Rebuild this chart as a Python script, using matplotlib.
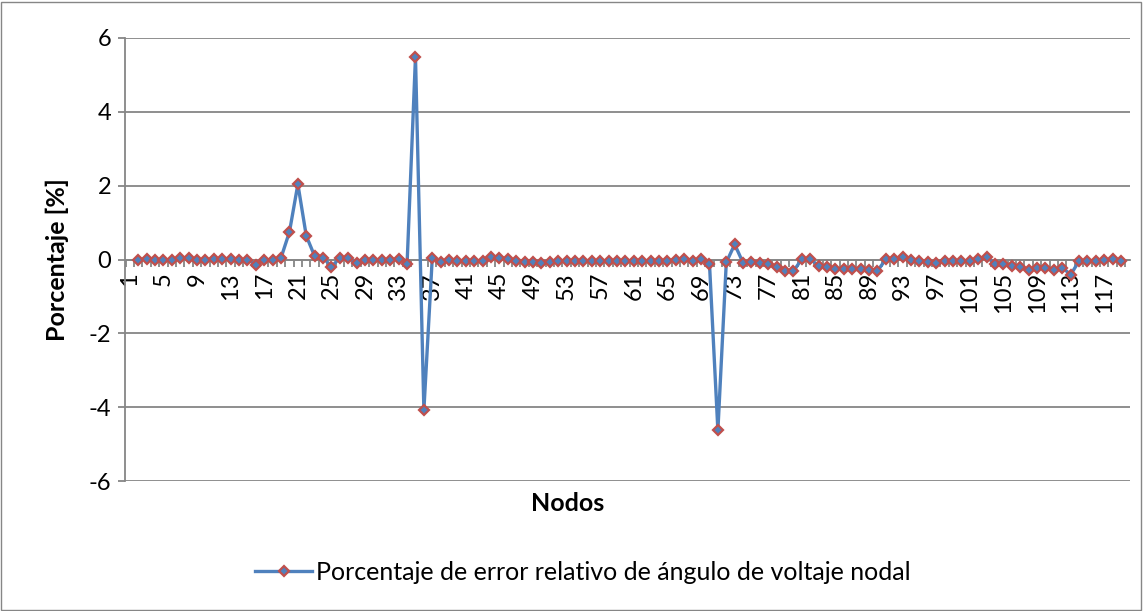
import matplotlib
matplotlib.use("Agg")
import matplotlib.pyplot as plt
from matplotlib.patches import Rectangle
from matplotlib.ticker import FixedLocator

plt.rcParams['font.family'] = ['Lato', 'DejaVu Sans']

# Relative error (%) of nodal voltage angle; node 1 has no value (reference angle)
nodes = list(range(2, 120))
error_pct = [
    0.00, 0.01, 0.00, -0.01, -0.01, 0.04, 0.05, -0.01, 0.00, 0.01,
    0.02, 0.02, -0.01, 0.00, -0.14, 0.00, -0.02, 0.05, 0.75, 2.04,
    0.64, 0.09, 0.05, -0.19, 0.04, 0.03, -0.09, -0.02, -0.01, -0.02,
    -0.01, 0.02, -0.12, 5.49, -4.08, 0.05, -0.06, -0.02, -0.05, -0.04,
    -0.04, -0.05, 0.06, 0.05, 0.02, -0.05, -0.08, -0.06, -0.10, -0.06,
    -0.05, -0.04, -0.05, -0.05, -0.05, -0.05, -0.05, -0.05, -0.05, -0.03,
    -0.03, -0.04, -0.03, -0.03, 0.00, 0.01, -0.03, 0.02, -0.12, -4.63,
    -0.08, 0.41, -0.09, -0.07, -0.09, -0.12, -0.19, -0.30, -0.32, 0.02,
    0.01, -0.17, -0.21, -0.25, -0.26, -0.27, -0.27, -0.29, -0.31, 0.01,
    0.01, 0.07, 0.00, -0.05, -0.07, -0.09, -0.05, -0.05, -0.05, -0.05,
    0.01, 0.06, -0.11, -0.13, -0.17, -0.19, -0.29, -0.22, -0.24, -0.29,
    -0.22, -0.41, -0.04, -0.03, -0.04, -0.02, 0.01, -0.05,
]
y_ticks = [-6, -4, -2, 0, 2, 4, 6]
x_tick_nodes = list(range(1, 118, 4))
x_tick_labels = [str(n) for n in x_tick_nodes]

series_label = "Porcentaje de error relativo de ángulo de voltaje nodal"
x_title = "Nodos"
y_title = "Porcentaje [%]"

W, H = 1143, 611
fig = plt.figure(figsize=(W / 100, H / 100), dpi=100)
fig.patch.set_facecolor("white")
fig.add_artist(Rectangle((1 / W, 1 / H), 1 - 3 / W, 1 - 3 / H,
                         transform=fig.transFigure, fill=False,
                         edgecolor="#868686", linewidth=1.0))

left, right, top, bottom = 125, 1130, 38, 481
ax = fig.add_axes([left / W, 1 - bottom / H, (right - left) / W, (bottom - top) / H])

grid_color = "#868686"
ax.set_ylim(-6, 6)
ax.set_xlim(0.42, 120.06)
ax.set_yticks(y_ticks)
ax.set_yticklabels([str(v) for v in y_ticks])
ax.yaxis.grid(True, color=grid_color, linewidth=1.3)
ax.set_axisbelow(True)

for side in ("top", "right"):
    ax.spines[side].set_visible(False)
ax.spines["left"].set_color(grid_color)
ax.spines["left"].set_linewidth(1.3)
ax.spines["bottom"].set_position(("data", 0))
ax.spines["bottom"].set_color(grid_color)
ax.spines["bottom"].set_linewidth(1.3)

ax.tick_params(axis="y", direction="out", length=5, width=1.3, color=grid_color,
               labelsize=17, pad=5)

# category labels on their nodes, tick marks between categories
ax.set_xticks(x_tick_nodes)
ax.set_xticklabels(x_tick_labels, rotation=90, fontsize=17)
ax.tick_params(axis="x", which="major", length=0, pad=9)
ax.xaxis.set_minor_locator(FixedLocator([n + 0.5 for n in range(0, 120)]))
ax.tick_params(axis="x", which="minor", direction="out", length=5, width=1.3,
               color=grid_color)

ax.plot(nodes, error_pct, color="#4F81BD", linewidth=2.4,
        marker="D", markersize=5.5, markerfacecolor="#4F81BD",
        markeredgecolor="#C0504D", markeredgewidth=1.6,
        label=series_label, zorder=3, clip_on=False)

ax.set_xlabel(x_title, fontsize=18, fontweight="bold")
ax.xaxis.set_label_coords(0.44, -0.025)
ax.set_ylabel(y_title, fontsize=18, fontweight="bold", labelpad=14)

fig.legend(loc="center", bbox_to_anchor=(0.51, 1 - 572 / H), frameon=False,
           fontsize=18, handlelength=2.3, handletextpad=0.15)

fig.savefig("out.png", dpi=100)
